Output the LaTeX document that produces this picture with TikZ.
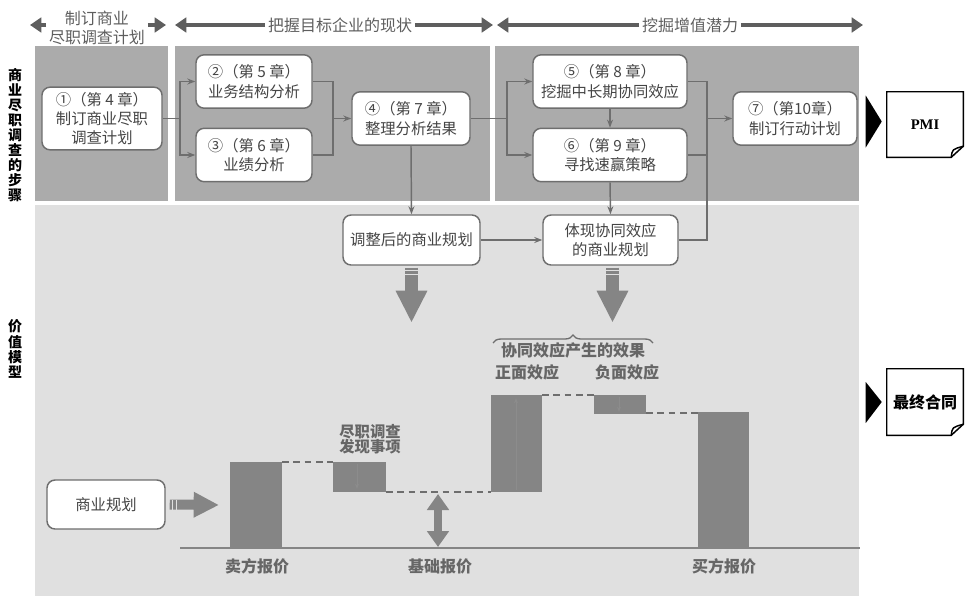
\documentclass[tikz,border=0pt]{standalone}
\usepackage{fontspec}
\setmainfont{Noto Sans CJK SC}
\newfontfamily\tnr{Liberation Serif}
\usetikzlibrary{arrows.meta,decorations.pathreplacing,calc}
\definecolor{panelD}{HTML}{ABABAB}
\definecolor{panelL}{HTML}{E0E0E0}
\definecolor{lineC}{HTML}{6E6E6E}
\definecolor{txtC}{HTML}{454545}
\definecolor{barC}{HTML}{858585}
\definecolor{hdrC}{HTML}{5E5E5E}
\definecolor{chartT}{HTML}{666666}
\begin{document}
\begin{tikzpicture}[x=0.75pt,y=-0.75pt,
  stepbox/.style={draw=lineC, line width=1.1pt, fill=white, rounded corners=6pt, align=center,
    text=txtC, font=\fontsize{11.5}{14.5}\selectfont, inner sep=1pt},
  conn/.style={draw=lineC, line width=1.1pt},
  tip/.style={-{Stealth[length=6pt,width=4.5pt]}},
  hdr/.style={text=hdrC, align=center, font=\fontsize{12}{14.2}\selectfont, inner sep=2pt},
  harrow/.style={draw=hdrC, line width=2.4pt, -{Triangle[length=8.5pt,width=11pt]}},
  bar/.style={fill=barC},
  dashln/.style={draw=lineC, line width=1.1pt, dash pattern=on 5pt off 3.5pt},
  fat/.style={draw=barC, line width=10pt, -{Triangle[length=24pt,width=22pt]}},
  stripe/.style={draw=panelL, line width=0.9pt},
  clbl/.style={text=chartT, align=center, font=\bfseries\fontsize{12}{12.5}\selectfont, inner sep=1pt},
  vlbl/.style={text=black, align=center, font=\bfseries\fontsize{10.5}{11.3}\selectfont, inner sep=0pt},
  docbox/.style={minimum width=57pt, minimum height=48.75pt, inner sep=0pt},
  doceline/.style={draw=black, line width=1.1pt},
  inarrow/.style={draw=black!45, line width=0.7pt, -{Stealth[length=4pt,width=3pt]}}
]
\useasboundingbox (0,0) rectangle (965,596);

% panels
\fill[panelD] (35,46) rectangle (168,201);
\fill[panelD] (175,46) rectangle (490,201);
\fill[panelD] (495,46) rectangle (859,201);
\fill[panelL] (35,205) rectangle (859,596);

% header
\node[hdr] (h1) at (97,27.5) {制订商业\\尽职调查计划};
\coordinate (a1l) at (30,25);
\coordinate (a1r) at (166,25);
\draw[harrow] (h1.west |- a1l) -- (a1l);
\draw[harrow] (h1.east |- a1r) -- (a1r);
\node[hdr] (h2) at (340,25) {把握目标企业的现状};
\coordinate (a2l) at (175,25);
\coordinate (a2r) at (493,25);
\draw[harrow] (h2.west) -- (a2l);
\draw[harrow] (h2.east) -- (a2r);
\node[hdr] (h3) at (690,25) {挖掘增值潜力};
\coordinate (a3l) at (497,25);
\coordinate (a3r) at (863,25);
\draw[harrow] (h3.west) -- (a3l);
\draw[harrow] (h3.east) -- (a3r);

% left vertical labels
\node[vlbl] (v1) at (15,135) {商\\业\\尽\\职\\调\\查\\的\\步\\骤};
\node[vlbl] (v2) at (15,349) {价\\值\\模\\型};

% step boxes
\node[stepbox, minimum width=90pt, minimum height=47pt] (b1) at (102,118.5) {①（第 4 章）\\制订商业尽职\\调查计划};
\node[stepbox, minimum width=87pt, minimum height=40pt] (b2) at (254,81.5) {②（第 5 章）\\业务结构分析};
\node[stepbox, minimum width=87pt, minimum height=40pt] (b3) at (254,155) {③（第 6 章）\\业绩分析};
\node[stepbox, minimum width=88.5pt, minimum height=40pt] (b4) at (411,118.5) {④（第 7 章）\\整理分析结果};
\node[stepbox, minimum width=115.5pt, minimum height=40pt] (b5) at (610,81.5) {⑤（第 8 章）\\挖掘中长期协同效应};
\node[stepbox, minimum width=115.5pt, minimum height=40pt] (b6) at (610,155) {⑥（第 9 章）\\寻找速赢策略};
\node[stepbox, minimum width=93pt, minimum height=40pt] (b7) at (795,118.5) {⑦（第10章）\\制订行动计划};
\node[stepbox, minimum width=102.75pt, minimum height=37.5pt] (b8) at (411.5,240) {调整后的商业规划};
\node[stepbox, minimum width=101.25pt, minimum height=37.5pt] (b9) at (610.5,240) {体现协同效应\\的商业规划};
\node[stepbox, minimum width=88.5pt, minimum height=36.75pt] (bp) at (106,504.5) {商业规划};

% connectors
\coordinate (j1) at (180,118.5);
\draw[conn] (b1.east) -- (j1);
\draw[conn,tip] (j1) |- (b2.west);
\draw[conn,tip] (j1) |- (b3.west);
\coordinate (j2) at (333,118.5);
\draw[conn] (b2.east) -| (j2);
\draw[conn] (b3.east) -| (j2);
\draw[conn,tip] (j2) -- (b4.west);
\coordinate (j3) at (507,118.5);
\draw[conn] (b4.east) -- (j3);
\draw[conn,tip] (j3) |- (b5.west);
\draw[conn,tip] (j3) |- (b6.west);
\draw[conn,tip] (b5.south) -- (b6.north);
\coordinate (j4) at (707,118.5);
\draw[conn] (b5.east) -| (j4);
\draw[conn] (b9.east) -| (j4);
\draw[conn] (b6.east) -- (b6.east -| j4);
\draw[conn,tip] (j4) -- (b7.west);
\draw[conn,tip] (b4.south) -- (b8.north);
\draw[conn,tip] (b6.south) -- (b9.north);
\draw[conn,tip] (b8.east) -- (b9.west);

% fat arrows
\draw[fat] ($(b8.south)+(0,2)$) -- ($(b8.south)+(0,57)$);
\draw[stripe] ($(b8.south)+(-7,5)$) -- ($(b8.south)+(7,5)$);
\draw[stripe] ($(b8.south)+(-7,9)$) -- ($(b8.south)+(7,9)$);
\draw[fat] ($(b9.south)+(2,2)$) -- ($(b9.south)+(2,57)$);
\draw[stripe] ($(b9.south)+(-5,5)$) -- ($(b9.south)+(9,5)$);
\draw[stripe] ($(b9.south)+(-5,9)$) -- ($(b9.south)+(9,9)$);
\coordinate (bpt) at (219,505);
\draw[draw=barC, line width=7.5pt, -{Triangle[length=19pt,width=18pt]}] ($(bp.east)+(4,0)$) -- (bpt);
\draw[stripe] ($(bp.east)+(7,-5)$) -- ($(bp.east)+(7,5)$);
\draw[stripe] ($(bp.east)+(11,-5)$) -- ($(bp.east)+(11,5)$);

% chart
\draw[draw=barC, line width=2.2pt] (180,548) -- (860,548);
\fill[bar] (230,462) rectangle (282,548);
\fill[bar] (333,462) rectangle (386,492);
\fill[bar] (491,395) rectangle (542,492);
\fill[bar] (594,395) rectangle (646,414);
\fill[bar] (698,412) rectangle (749,548);
\draw[dashln] (282,462) -- (333,462);
\draw[dashln] (386,492) -- (491,492);
\draw[dashln] (542,395) -- (594,395);
\draw[dashln] (646,413) -- (698,413);
\draw[inarrow] (357,464) -- (357,489);
\draw[inarrow] (516,490) -- (516,398);
\draw[inarrow] (619,397) -- (619,412);
\draw[draw=barC, line width=6pt, {Triangle[length=12pt,width=16pt]}-{Triangle[length=12pt,width=16pt]}] (438,494) -- (438,547);

\node[clbl] (l1) at (257,566) {卖方报价};
\node[clbl] (l2) at (440,566) {基础报价};
\node[clbl] (l3) at (724,566) {买方报价};
\node[clbl, font=\bfseries\fontsize{11.5}{11.5}\selectfont] (l4) at (370,439) {尽职调查\\发现事项};
\draw[draw=lineC, line width=1pt, decorate, decoration={brace, amplitude=6pt}] (493,343) -- (653,343);
\node[clbl] (l5) at (573,350) {协同效应产生的效果};
\node[clbl] (l6) at (527,372) {正面效应};
\node[clbl] (l7) at (627,372) {负面效应};

% documents on the right
\node[docbox, font=\tnr\bfseries\fontsize{11}{13}\selectfont] (pmi) at (925,124.5) {PMI};
\draw[doceline] (pmi.north west) -- (pmi.north east) -- ($(pmi.south east)+(0,-11)$)
  -- ($(pmi.south east)+(-12,0)$) -- (pmi.south west) -- cycle;
\draw[doceline] ($(pmi.south east)+(-12,0)$) .. controls ($(pmi.south east)+(-11,-8)$) .. ($(pmi.south east)+(0,-11)$);
\fill[black] ($(pmi.west)+(-21,-29)$) -- ($(pmi.west)+(-5,-3)$) -- ($(pmi.west)+(-21,23)$) -- cycle;

\node[docbox, minimum height=49.5pt, font=\bfseries\fontsize{12}{13}\selectfont] (fin) at (925,402) {最终合同};
\draw[doceline] (fin.north west) -- (fin.north east) -- ($(fin.south east)+(0,-11)$)
  -- ($(fin.south east)+(-12,0)$) -- (fin.south west) -- cycle;
\draw[doceline] ($(fin.south east)+(-12,0)$) .. controls ($(fin.south east)+(-11,-8)$) .. ($(fin.south east)+(0,-11)$);
\fill[black] ($(fin.west)+(-21,-20)$) -- ($(fin.west)+(-5,0)$) -- ($(fin.west)+(-21,21)$) -- cycle;
\end{tikzpicture}
\end{document}
